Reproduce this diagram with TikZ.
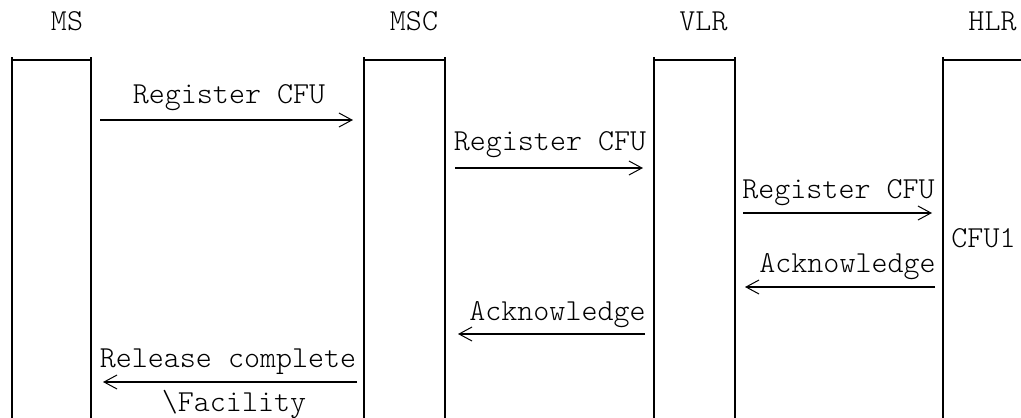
\documentclass[tikz,border=0pt]{standalone}
\usepackage{tikz}
\usepackage{fontspec}
\usetikzlibrary{arrows.meta}

\newfontfamily\monofino{lmmonolt10-regular}[Extension=.otf] % Letra de maquina fina

\tikzset{
  etiqueta/.style={inner sep=0pt, anchor=base, font=\fontsize{30.5}{36}\monofino},
  caja/.style={line width=1.5pt},
  mensaje/.style={line width=2.2pt, -{Straight Barb[length=13pt, width=14pt, line width=1pt, sep=2pt]}}
}

\begin{document}
\begin{tikzpicture}[x=1pt, y=-1pt]
    \useasboundingbox (0,0) rectangle (1021,418); % Marco de la figura

    % Nombres de las entidades
    \node[etiqueta] (ms) at (67,30) {MS};
    \node[etiqueta] (msc) at (414,30) {MSC};
    \node[etiqueta] (vlr) at (703.5,30) {VLR};
    \node[etiqueta] (hlr) at (992.5,30) {HLR};

    % Cajas abiertas por abajo
    \draw[caja] (12,418) -- (12,57) (12,60) -- (91,60) (91,57) -- (91,418); % Caja del MS
    \draw[caja] (364,418) -- (364,57) (364,60) -- (445,60) (445,57) -- (445,418); % Caja del MSC
    \draw[caja] (654,418) -- (654,57) (654,60) -- (735,60) (735,57) -- (735,418); % Caja del VLR
    \draw[caja] (943,418) -- (943,57) (943,60) -- (1021,60); % Caja del HLR

    % Extremos de las flechas
    \coordinate (m1a) at (100,120);   \coordinate (m1b) at (355,120);
    \coordinate (m2a) at (455,168);   \coordinate (m2b) at (645,168);
    \coordinate (m3a) at (743,213);   \coordinate (m3b) at (934,213);
    \coordinate (m4a) at (935,287);   \coordinate (m4b) at (743,287);
    \coordinate (m5a) at (645,334);   \coordinate (m5b) at (456,334);
    \coordinate (m6a) at (357,382);   \coordinate (m6b) at (101,382);

    % Mensajes
    \node[etiqueta] (reg1) at (229,103) {Register CFU};
    \draw[mensaje] (m1a) -- (m1b); % MS hacia MSC
    \node[etiqueta] (reg2) at (550,150) {Register CFU};
    \draw[mensaje] (m2a) -- (m2b); % MSC hacia VLR
    \node[etiqueta] (reg3) at (838.5,198) {Register CFU};
    \draw[mensaje] (m3a) -- (m3b); % VLR hacia HLR
    \node[etiqueta] (cfu) at (983.5,247) {CFU1};
    \node[etiqueta] (ack1) at (847.5,272) {Acknowledge};
    \draw[mensaje] (m4a) -- (m4b); % HLR hacia VLR
    \node[etiqueta] (ack2) at (557.5,320) {Acknowledge};
    \draw[mensaje] (m5a) -- (m5b); % VLR hacia MSC
    \node[etiqueta] (rel) at (228,367) {Release complete};
    \draw[mensaje] (m6a) -- (m6b); % MSC hacia MS
    \node[etiqueta] (fac) at (234,411) {\textbackslash Facility};
\end{tikzpicture}
\end{document}
